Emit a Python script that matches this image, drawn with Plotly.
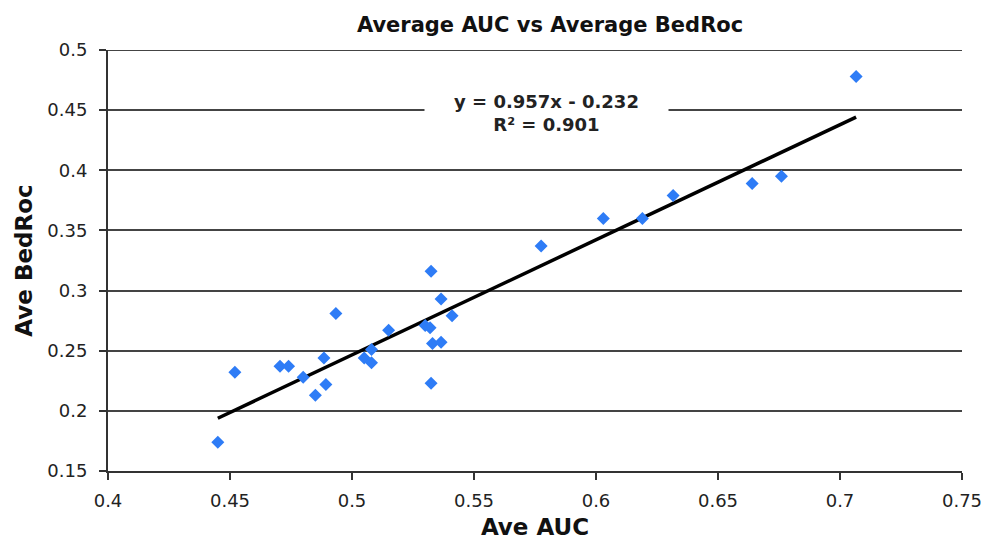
import numpy as np
import plotly.graph_objects as go

ave_auc = [0.445, 0.452, 0.4705, 0.474, 0.480, 0.485, 0.4885, 0.4893, 0.4934,
           0.505, 0.508, 0.508, 0.515, 0.530, 0.532, 0.5324, 0.5324, 0.533,
           0.5365, 0.5365, 0.541, 0.5775, 0.603, 0.619, 0.6316, 0.664, 0.676, 0.7066]
ave_bedroc = [0.174, 0.232, 0.237, 0.237, 0.228, 0.213, 0.244, 0.222, 0.281,
              0.244, 0.251, 0.240, 0.267, 0.271, 0.269, 0.316, 0.223, 0.256,
              0.257, 0.293, 0.279, 0.337, 0.360, 0.360, 0.379, 0.389, 0.395, 0.478]
slope = 0.957
intercept = -0.232
r2 = 0.901

x_ticks = [0.4, 0.45, 0.5, 0.55, 0.6, 0.65, 0.7, 0.75]
y_ticks = [0.15, 0.2, 0.25, 0.3, 0.35, 0.4, 0.45, 0.5]

font = "DejaVu Sans"

fx = np.array([min(ave_auc), max(ave_auc)])
fy = slope * fx + intercept

fig = go.Figure()
fig.add_trace(go.Scatter(x=fx, y=fy, mode="lines",
                         line=dict(color="black", width=3.5), showlegend=False))
fig.add_trace(go.Scatter(x=ave_auc, y=ave_bedroc, mode="markers",
                         marker=dict(symbol="diamond", size=10, color="#2E7CF6"),
                         showlegend=False))

fig.add_annotation(x=0.5797, y=0.4475, xref="x", yref="y",
                   text=f"y = {slope}x - {abs(intercept)}<br>R² = {r2}",
                   showarrow=False, align="center", width=235, height=58,
                   font=dict(family=font, size=18, color="#222", weight="bold"),
                   bgcolor="white", borderpad=4)

# top border line at y = 0.5
fig.add_shape(type="line", xref="paper", yref="y", x0=0, x1=1, y0=0.5, y1=0.5,
              line=dict(color="#444", width=2), layer="below")

fig.update_layout(
    width=981, height=540,
    margin=dict(l=108, r=19, t=50, b=69),
    paper_bgcolor="white", plot_bgcolor="white",
    title=dict(text="<b>Average AUC vs Average BedRoc</b>", x=0.5607, xanchor="center",
               y=0.954, yanchor="middle",
               font=dict(family=font, size=21, color="#111")),
    xaxis=dict(range=[0.4, 0.75], tickvals=x_ticks, ticktext=[f"{v:g}" for v in x_ticks],
               showgrid=False, zeroline=False, showline=True, linecolor="#333", linewidth=2,
               ticks="outside", ticklen=7, tickcolor="#333", tickwidth=1.5,
               automargin=False, ticklabelstandoff=5, ticklabeloverflow="allow",
               tickfont=dict(family=font, size=18, color="#222"),
               title=dict(text="<b>Ave AUC</b>", font=dict(family=font, size=23, color="#111"),
                          standoff=14)),
    yaxis=dict(range=[0.15, 0.5], tickvals=y_ticks, ticktext=[f"{v:g}" for v in y_ticks],
               showgrid=True, gridcolor="#444", gridwidth=2, zeroline=False,
               showline=True, linecolor="#333", linewidth=2,
               ticks="outside", ticklen=7, tickcolor="#333", tickwidth=1.5,
               automargin=False, ticklabelstandoff=8, ticklabeloverflow="allow",
               tickfont=dict(family=font, size=18, color="#222"),
               title=dict(text="<b>Ave BedRoc</b>", font=dict(family=font, size=23, color="#111"),
                          standoff=8)),
)

fig.write_html("out.html")
